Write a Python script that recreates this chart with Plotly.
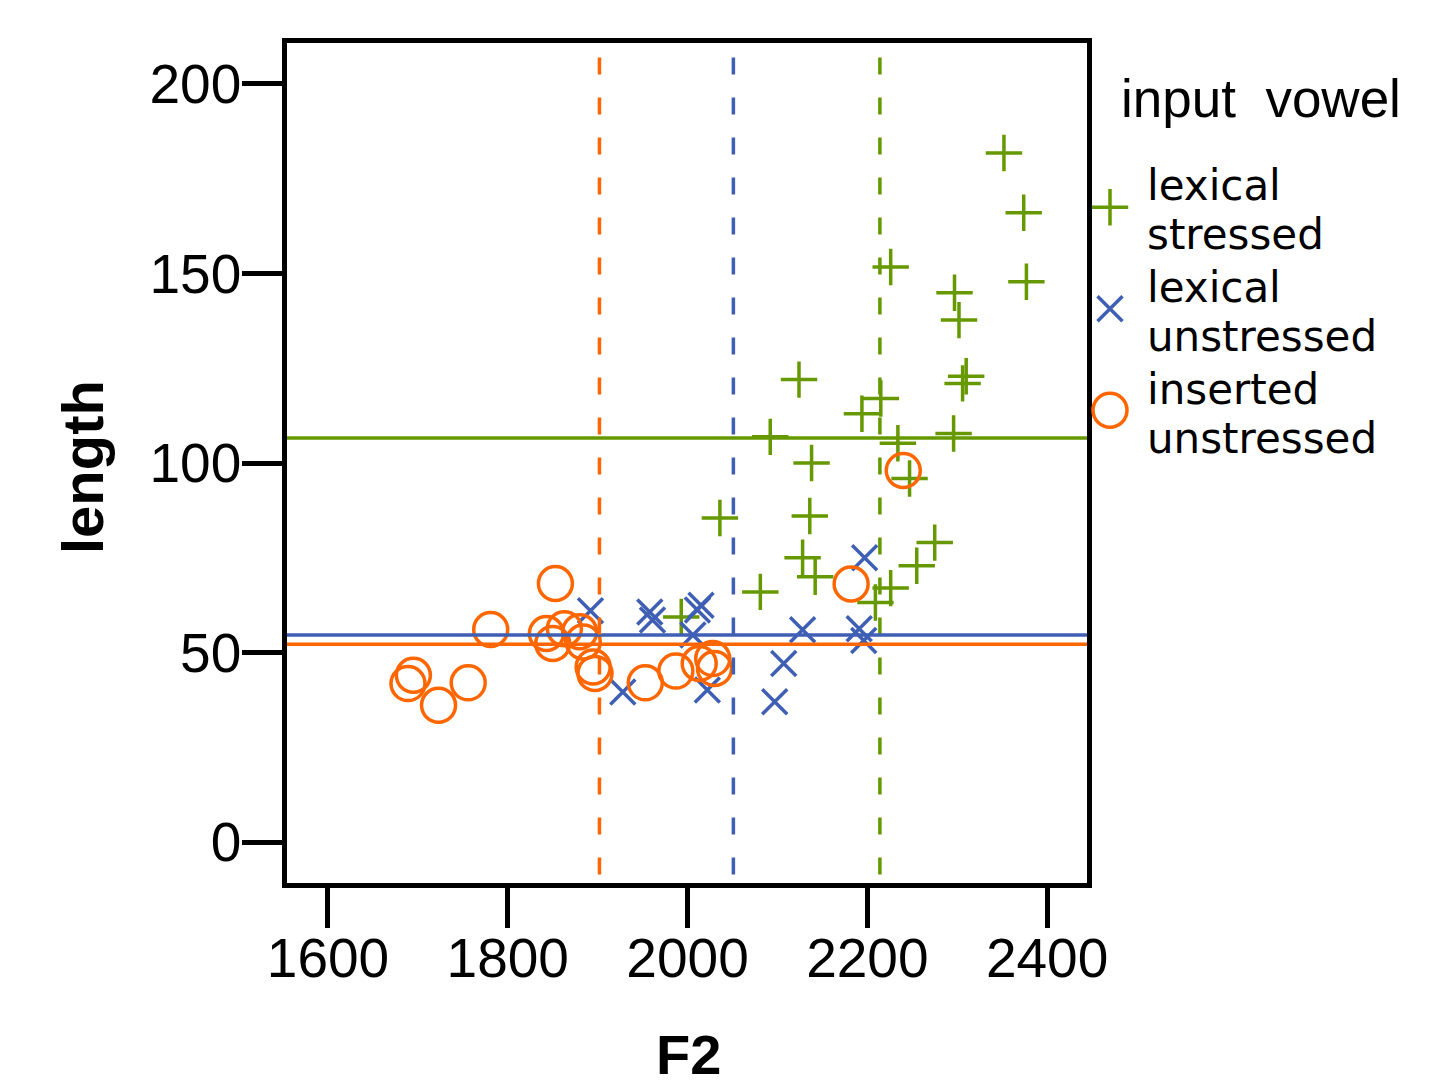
import plotly.graph_objects as go

# lexical stressed (+)
ls_f2 = [2352, 2374, 2377, 2226, 2297, 2302, 2310, 2306, 2124, 2215, 2194, 2092, 2234,
         2296, 2138, 2247, 2136, 2275, 2255, 2128, 2142, 2081, 2226, 2209, 2036, 1993]
ls_len = [181.8, 166, 147.8, 151.7, 144.9, 137.7, 122.9, 121, 122, 117, 113, 106.9, 105.2,
          107.8, 100, 95.9, 86, 79, 72.9, 75, 70, 66, 67, 63.2, 85.5, 59.4]
# lexical unstressed (x)
lu_f2 = [1892, 1958, 1961, 2015, 2011, 2006, 1928, 2022, 2197, 2128, 2191, 2196, 2107, 2097]
lu_len = [61, 60.7, 58.6, 62.5, 61.2, 54.6, 39.6, 40.1, 75, 56, 56.3, 53.2, 47.1, 37]
# inserted unstressed (o)
iu_f2 = [1695, 1689, 1723, 1756, 1781, 1853, 1843, 1850, 1863, 1880, 1884, 1895, 1897,
         1953, 1987, 2013, 2028, 2030, 2240, 2182]
iu_len = [44, 41.8, 36.1, 42, 56.1, 68.2, 55, 52.4, 56.3, 55.5, 52.8, 46.2, 44.5,
          42, 45.1, 47.1, 48.4, 45.8, 98, 68.1]

legend_title = "input\u00a0 vowel"
series_lines = [["lexical", "stressed"], ["lexical", "unstressed"], ["inserted", "unstressed"]]
mean_f2 = [2214, 2051, 1902]
mean_len = [106.6, 54.6, 52.2]

x_ticks = [1600, 1800, 2000, 2200, 2400]
y_ticks = [0, 50, 100, 150, 200]

GREEN = "#669900"
BLUE = "#3f5fb5"
ORANGE = "#ff6600"
colors = [GREEN, BLUE, ORANGE]
symbols = ["cross-thin-open", "x-thin-open", "circle-open"]
sizes = [26, 25, 34]
FONT = "Liberation Sans, Arial, sans-serif"
LEG_FONT = "DejaVu Sans, sans-serif"

W, H = 1443, 1078          # page has an 8px body margin
OFF = 8


def px_x(px):
    return (px - OFF) / W


def px_y(py):
    return 1 - (py - OFF) / H


fig = go.Figure()
data = [(ls_f2, ls_len), (lu_f2, lu_len), (iu_f2, iu_len)]
for i, (xs, ys) in enumerate(data):
    fig.add_trace(go.Scatter(
        x=xs, y=ys, mode="markers", name=" ".join(series_lines[i]), showlegend=False,
        marker=dict(symbol=symbols[i], size=sizes[i], color=colors[i],
                    line=dict(color=colors[i], width=3.5))))

# legend keys drawn on a small helper axis
for i in range(3):
    fig.add_trace(go.Scatter(
        x=[0], y=[i], mode="markers", xaxis="x2", yaxis="y2", showlegend=False,
        hoverinfo="skip", cliponaxis=False,
        marker=dict(symbol=symbols[i], size=sizes[i], color=colors[i],
                    line=dict(color=colors[i], width=3.5))))

for c, xv, yv in zip(colors, mean_f2, mean_len):
    fig.add_shape(type="line", xref="x", yref="y domain", x0=xv, x1=xv, y0=0.01, y1=0.985,
                  line=dict(color=c, width=3.5, dash="17px,23px"))
    fig.add_shape(type="line", xref="x domain", yref="y", x0=0, x1=1, y0=yv, y1=yv,
                  line=dict(color=c, width=3.5))

axis_common = dict(showline=True, linecolor="black", linewidth=4.5, mirror=True,
                   ticks="outside", ticklen=40, tickwidth=5, tickcolor="black",
                   showgrid=False, zeroline=False, automargin=False,
                   tickfont=dict(family=FONT, size=55, color="black"))
fig.update_layout(
    xaxis=dict(domain=[px_x(287), px_x(1087)], range=[1554.4, 2444.4], tickvals=x_ticks,
               ticklabelstandoff=-17, **axis_common),
    yaxis=dict(domain=[px_y(883), px_y(43)], range=[-10.8, 210.8], tickvals=y_ticks,
               ticklabelstandoff=-10, **axis_common),
    xaxis2=dict(domain=[px_x(1090), px_x(1130)], range=[-1, 1], visible=False,
                anchor="y2", fixedrange=True),
    yaxis2=dict(domain=[px_y(461), px_y(156.5)], range=[2.5, -0.5], visible=False,
                anchor="x2", fixedrange=True),
)

fig.add_annotation(text="<b>length</b>", xref="paper", yref="paper",
                   x=px_x(82), y=px_y(467), xanchor="center", yanchor="middle",
                   textangle=-90, showarrow=False, borderpad=0,
                   font=dict(family=FONT, size=58, color="black"))
fig.add_annotation(text="<b>F2</b>", xref="paper", yref="paper",
                   x=px_x(688), y=px_y(1074 - 0.3465 * 56), xanchor="center", yanchor="middle",
                   showarrow=False, borderpad=0,
                   font=dict(family=FONT, size=56, color="black"))
fig.add_annotation(text=legend_title, xref="paper", yref="paper",
                   x=px_x(1120), y=px_y(117 - 0.3465 * 53), xanchor="left", yanchor="middle",
                   showarrow=False, borderpad=0,
                   font=dict(family=FONT, size=53, color="black"))

baselines = [[200, 249], [302, 351], [404, 453]]
LF = 42
for lines, bls in zip(series_lines, baselines):
    for txt, bl in zip(lines, bls):
        fig.add_annotation(text=txt, xref="paper", yref="paper",
                           x=px_x(1146), y=px_y(bl - 0.346 * LF),
                           xanchor="left", yanchor="middle", showarrow=False, borderpad=0,
                           font=dict(family=LEG_FONT, size=LF, color="black"))

fig.update_layout(
    width=W, height=H,
    margin=dict(l=0, r=0, t=0, b=0, autoexpand=False),
    paper_bgcolor="white", plot_bgcolor="white",
    showlegend=False,
)

fig.write_html("out.html")
